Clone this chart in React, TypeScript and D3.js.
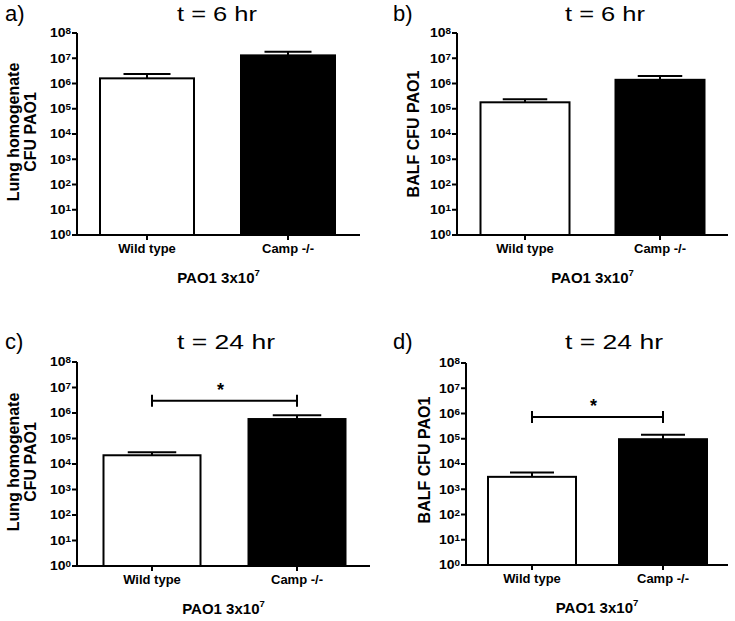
import React from 'react';
import * as d3 from 'd3';

// ---- data ----
const categories = ['Wild type', 'Camp -/-'];
const panelLetters = ['a)', 'b)', 'c)', 'd)'];
const panelTitles = ['t = 6 hr', 't = 6 hr', 't = 24 hr', 't = 24 hr'];
const yTitles = [
  ['Lung homogenate', 'CFU PAO1'],
  ['BALF CFU PAO1'],
  ['Lung homogenate', 'CFU PAO1'],
  ['BALF CFU PAO1'],
];
const wildTypeMean = [1.6e6, 1.8e5, 2.2e4, 3.1e3];
const wildTypeUpper = [2.4e6, 2.4e5, 2.9e4, 4.6e3];
const campMean = [1.3e7, 1.4e6, 5.8e5, 9.6e4];
const campUpper = [1.8e7, 2.0e6, 8.1e5, 1.45e5];
const significanceLevel: (number | null)[] = [null, null, 3.0e6, 7.2e5];
const yTickExponents = [0, 1, 2, 3, 4, 5, 6, 7, 8];
const xAxisTitleBase = 'PAO1 3x10';
const xAxisTitleSup = '7';

// ---- layout ----
const layouts = [
  { axisX: 77, xRight: 360, yTop: 33, yBottom: 235, c1: 147, c2: 288, barW: 94, titleX: 217, titleY: 21, titleW: 80, letterX: 5, yTitleX: [19, 36], yTitleC: 132 },
  { axisX: 457, xRight: 728, yTop: 33, yBottom: 235, c1: 525, c2: 660, barW: 89, titleX: 605, titleY: 21, titleW: 80, letterX: 393, yTitleX: [418.5], yTitleC: 134 },
  { axisX: 77, xRight: 370, yTop: 362, yBottom: 566, c1: 152, c2: 297, barW: 97, titleX: 226, titleY: 349, titleW: 98, letterX: 5, yTitleX: [19, 36], yTitleC: 462 },
  { axisX: 466, xRight: 728, yTop: 363, yBottom: 565, c1: 532, c2: 663, barW: 88, titleX: 614, titleY: 349, titleW: 98, letterX: 393, yTitleX: [430], yTitleC: 460 },
];

const FONT = 'Liberation Sans, Arial, Helvetica, sans-serif';

function Panel({ i }: { i: number }) {
  const L = layouts[i];
  const y = d3.scaleLog().domain([1, 1e8]).range([L.yBottom, L.yTop]);
  const x = d3.scalePoint<string>().domain(categories).range([L.c1, L.c2]);
  const means = [wildTypeMean[i], campMean[i]];
  const uppers = [wildTypeUpper[i], campUpper[i]];
  const fills = ['#ffffff', '#000000'];
  const sig = significanceLevel[i];
  const midX = (L.axisX + L.xRight) / 2;
  return (
    <g fontFamily={FONT}>
      <text x={L.letterX} y={L.titleY} fontSize={22}>{panelLetters[i]}</text>
      <text x={L.titleX - L.titleW / 2} y={L.titleY} fontSize={20} textLength={L.titleW} lengthAdjust="spacingAndGlyphs">{panelTitles[i]}</text>
      {/* bars */}
      {categories.map((c, k) => {
        const cx = x(c)!;
        const top = y(means[k]);
        const up = y(uppers[k]);
        return (
          <g key={c}>
            <line x1={cx} x2={cx} y1={top} y2={up} stroke="#000" strokeWidth={2} />
            <line x1={cx - L.barW / 4} x2={cx + L.barW / 4} y1={up} y2={up} stroke="#000" strokeWidth={2} />
            <rect x={cx - L.barW / 2} y={top} width={L.barW} height={L.yBottom - top} fill={fills[k]} stroke="#000" strokeWidth={2} />
          </g>
        );
      })}
      {/* y axis */}
      <line x1={L.axisX} x2={L.axisX} y1={L.yTop} y2={L.yBottom + 1} stroke="#000" strokeWidth={2} />
      {yTickExponents.map((e) => {
        const ty = y(Math.pow(10, e));
        return (
          <g key={e}>
            <line x1={L.axisX - 5} x2={L.axisX} y1={ty} y2={ty} stroke="#000" strokeWidth={2} />
            <text x={L.axisX - 27} y={ty + 4.3} fontSize={12} fontWeight="bold" textLength={21} lengthAdjust="spacingAndGlyphs">
              10<tspan fontSize={8.5} dy={-3}>{e}</tspan>
            </text>
          </g>
        );
      })}
      {/* x axis */}
      <line x1={L.axisX - 1} x2={L.xRight} y1={L.yBottom} y2={L.yBottom} stroke="#000" strokeWidth={2} />
      {categories.map((c) => (
        <g key={c}>
          <line x1={x(c)!} x2={x(c)!} y1={L.yBottom} y2={L.yBottom + 5} stroke="#000" strokeWidth={2} />
          <text x={x(c)!} y={L.yBottom + 18} fontSize={13} fontWeight="bold" textAnchor="middle">{c}</text>
        </g>
      ))}
      <text x={midX} y={L.yBottom + 48} fontSize={15} fontWeight="bold" textAnchor="middle">
        {xAxisTitleBase}<tspan fontSize={9.5} dy={-7}>{xAxisTitleSup}</tspan>
      </text>
      {/* y title */}
      {yTitles[i].map((t, k) => (
        <text key={k} transform={`translate(${L.yTitleX[k]},${L.yTitleC}) rotate(-90)`} fontSize={16} fontWeight="bold" textAnchor="middle">{t}</text>
      ))}
      {/* significance */}
      {sig !== null && (() => {
        const by = y(sig);
        const x1 = x(categories[0])!;
        const x2 = x(categories[1])!;
        return (
          <g>
            <line x1={x1} x2={x2} y1={by} y2={by} stroke="#000" strokeWidth={2} />
            <line x1={x1} x2={x1} y1={by - 6} y2={by + 6} stroke="#000" strokeWidth={2} />
            <line x1={x2} x2={x2} y1={by - 6} y2={by + 6} stroke="#000" strokeWidth={2} />
            <text x={(x1 + x2) / 2 - 4} y={by - 5} fontSize={18} fontWeight="bold" textAnchor="middle">*</text>
          </g>
        );
      })()}
    </g>
  );
}

export default function App() {
  return (
    <svg width={735} height={621} style={{ position: 'absolute', left: 0, top: 0, background: '#fff' }}>
      <rect width={735} height={621} fill="#fff" />
      {layouts.map((_, i) => <Panel key={i} i={i} />)}
    </svg>
  );
}
